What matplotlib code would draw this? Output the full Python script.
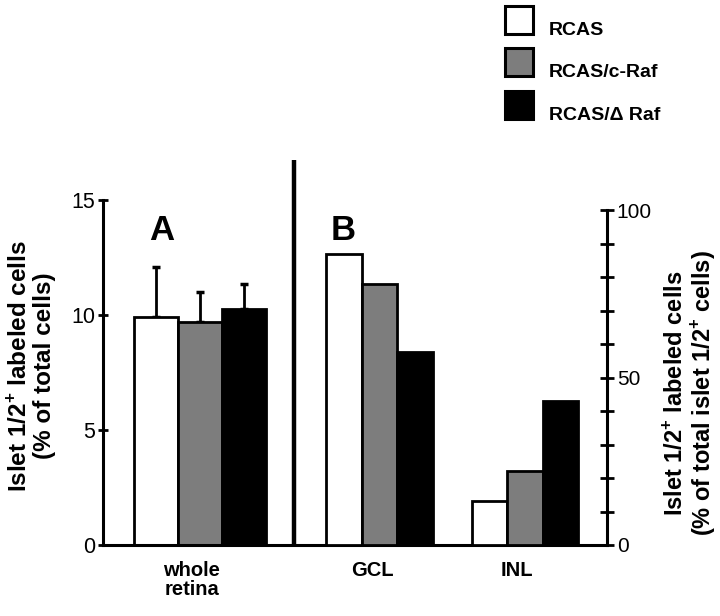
import matplotlib
matplotlib.use("Agg")
import matplotlib.pyplot as plt
import matplotlib.transforms as mtransforms
from matplotlib.patches import Rectangle

plt.rcParams['font.family'] = ['Liberation Sans', 'DejaVu Sans']
plt.rcParams['mathtext.fontset'] = 'custom'
plt.rcParams['mathtext.rm'] = 'Liberation Sans'
plt.rcParams['mathtext.bf'] = 'Liberation Sans:bold'

# ---- data ----
series = ['RCAS', 'RCAS/c-Raf', 'RCAS/\u0394 Raf']
colors = ['white', '#7d7d7d', 'black']

whole_retina = [9.9, 9.7, 10.25]        # % of total cells (left axis)
whole_err = [2.2, 1.3, 1.1]
gcl = [87, 78, 57.5]                    # % of total islet 1/2+ cells (right axis)
inl = [13, 22, 43]

panel_labels = ['A', 'B']
left_ticks = [0, 5, 10, 15]
right_ticks = [0, 50, 100]
right_minor = [10, 20, 30, 40, 60, 70, 80, 90]

# ---- layout ----
W, H = 720, 616
fig = plt.figure(figsize=(W / 100, H / 100), dpi=100)
ax = fig.add_axes([103 / W, 71 / H, 504 / W, 345 / H])
ax2 = ax.twinx()

pos_whole = 1.915
pos_gcl = 5.486
pos_inl = 8.37
sep_x = 3.79
w_a = 0.873
w_b = 0.705

edge_lw = 2.0
for i, (v, e, c) in enumerate(zip(whole_retina, whole_err, colors)):
    x = pos_whole + (i - 1) * w_a
    ax.bar(x, v, width=w_a, color=c, edgecolor='black', linewidth=edge_lw,
           zorder=2)
    ax.errorbar(x, v, yerr=[[0], [e]], fmt='none', ecolor='black',
                elinewidth=2, capsize=3, capthick=2.5, zorder=1)

for i, c in enumerate(colors):
    for grp, vals in ((pos_gcl, gcl), (pos_inl, inl)):
        x = grp + (i - 1) * w_b
        ax2.bar(x, vals[i], width=w_b, color=c, edgecolor='black',
                linewidth=edge_lw, zorder=2)

ax.set_xlim(0, 10)
ax.set_ylim(0, 15)
ax2.set_ylim(0, 103.0)

# spines
for a in (ax, ax2):
    a.spines['top'].set_visible(False)
ax.spines['right'].set_visible(False)
ax2.spines['left'].set_visible(False)
ax2.spines['bottom'].set_visible(False)
ax.spines['left'].set_linewidth(2.2)
ax.spines['bottom'].set_linewidth(2.2)
ax2.spines['right'].set_linewidth(2.2)
ax2.spines['right'].set_bounds(0, 100)

ax.set_xticks([])
ax.set_yticks(left_ticks)
ax.tick_params(axis='y', direction='inout', length=7, width=2,
               labelsize=15.5, pad=2)
ax2.set_yticks(right_ticks)
ax2.set_yticks(right_minor, minor=True)
ax2.tick_params(axis='y', which='major', direction='inout', length=10, width=2,
                labelsize=15, pad=2)
ax2.tick_params(axis='y', which='minor', direction='inout', length=10, width=2)

# separator line
trans = mtransforms.blended_transform_factory(ax.transData, ax.transAxes)
ax.plot([sep_x, sep_x], [0, 1.116], transform=trans, color='black',
        lw=3.2, clip_on=False, solid_capstyle='butt', zorder=3)

# panel labels
fig.text(162 / W, 1 - 240 / H, panel_labels[0], fontsize=25, fontweight='bold',
         ha='center', va='baseline')
fig.text(343 / W, 1 - 240 / H, panel_labels[1], fontsize=25, fontweight='bold',
         ha='center', va='baseline')

# x labels
xlab_y = -0.045
for xp, txt in ((pos_whole, 'whole\nretina'), (pos_gcl, 'GCL'), (pos_inl, 'INL')):
    ax.text(xp - 0.15, xlab_y, txt, transform=trans, ha='center', va='top',
            fontsize=14.5, fontweight='bold', linespacing=1.0)

# y labels
fig.text(32 / W, 1 - 366 / H,
         'Islet 1/2$^{\\mathbf{+}}$ labeled cells\n(% of total cells)',
         rotation=90, ha='center', va='center', fontsize=17.5,
         fontweight='bold', multialignment='center', linespacing=1.05)
fig.text(691 / W, 1 - 393 / H,
         'Islet 1/2$^{\\mathbf{+}}$ labeled cells\n(% of total islet 1/2$^{\\mathbf{+}}$ cells)',
         rotation=90, ha='center', va='center', fontsize=17,
         fontweight='bold', multialignment='center', linespacing=1.05)

# legend (drawn manually in figure pixels)
box_tops = [6, 48, 91]
text_base = [35, 77, 120]
for i, c in enumerate(colors):
    fig.add_artist(Rectangle((505 / W, 1 - (box_tops[i] + 28) / H), 28 / W, 28 / H,
                             transform=fig.transFigure, facecolor=c,
                             edgecolor='black', linewidth=2.2))
    fig.text(549 / W, 1 - text_base[i] / H, series[i], fontsize=14,
             fontweight='bold', ha='left', va='baseline')

fig.savefig('out.png', dpi=100)
